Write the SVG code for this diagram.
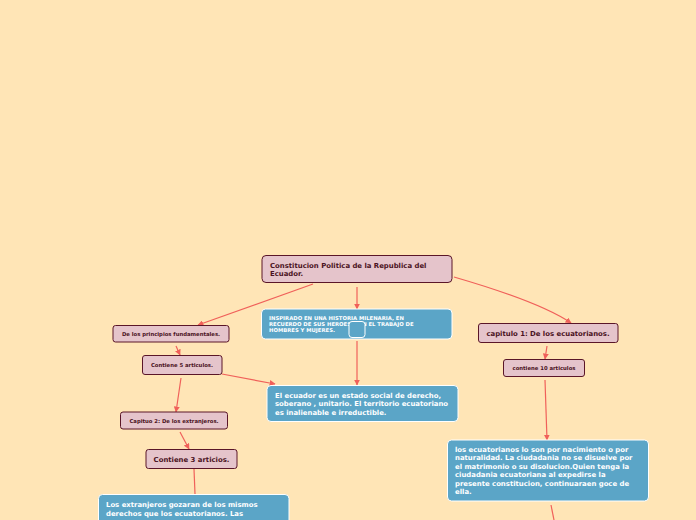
<svg xmlns="http://www.w3.org/2000/svg" width="696" height="520" viewBox="0 0 696 520">
<defs>
<style>
.bg{fill:#FFE5B6}
.pink{fill:#E5C4CB;stroke:#5A1628;stroke-width:1}
.blue{fill:#5BA5C7;stroke:#FFFFFF;stroke-width:1}
.tp{font-family:"DejaVu Sans","Verdana",sans-serif;font-weight:bold;fill:#4A1222}
.tb{font-family:"DejaVu Sans","Verdana",sans-serif;font-weight:bold;fill:#FFFFFF}
.c{fill:none;stroke:#F0605A;stroke-width:1.2}
</style>
<marker id="ah" viewBox="0 0 10 10" refX="9" refY="5" markerWidth="6" markerHeight="6" orient="auto" markerUnits="userSpaceOnUse">
<path d="M0,0 L10,5 L0,10 z" fill="#F0605A"/>
</marker>
</defs>
<rect class="bg" x="0" y="0" width="696" height="520"/>
<g id="connectors">
<path class="c" d="M313,284 L198,325" marker-end="url(#ah)"/>
<path class="c" d="M357,287 L357,309" marker-end="url(#ah)"/>
<path class="c" d="M454,277 Q540,302 571,323" marker-end="url(#ah)"/>
<path class="c" d="M176,346 L180,355" marker-end="url(#ah)"/>
<path class="c" d="M181,378 L176,412" marker-end="url(#ah)"/>
<path class="c" d="M222,374 L275,384" marker-end="url(#ah)"/>
<path class="c" d="M357,341 L357,385" marker-end="url(#ah)"/>
<path class="c" d="M180,432 L189,449" marker-end="url(#ah)"/>
<path class="c" d="M194,469 L195,494"/>
<path class="c" d="M547,346 L545,359" marker-end="url(#ah)"/>
<path class="c" d="M545,380 L547,440" marker-end="url(#ah)"/>
<path class="c" d="M551,505 L554,520"/>
</g>
<g id="root">
<rect class="pink" x="262" y="255.5" width="190" height="27" rx="4"/>
<text class="tp" font-size="6.9"><tspan x="270" y="267.5">Constitucion Politica de la Republica del</tspan><tspan x="270" y="276">Ecuador.</tspan></text>
</g>
<g id="inspirado">
<rect class="blue" x="261.5" y="309" width="190.5" height="30" rx="4"/>
<text class="tb" font-size="5.3"><tspan x="269" y="319.5">INSPIRADO EN UNA HISTORIA MILENARIA, EN</tspan><tspan x="269" y="325.5">RECUERDO DE SUS HEROES Y EN EL TRABAJO DE</tspan><tspan x="269" y="331.5">HOMBRES Y MUJERES.</tspan></text>
<rect x="349" y="321.5" width="16" height="16" rx="3" fill="#5BA5C7" stroke="#FFFFFF" stroke-width="1"/>
</g>
<g id="principios">
<rect class="pink" x="113" y="325.5" width="116" height="16.5" rx="2.5"/>
<text class="tp" font-size="5.3" x="171" y="335.5" text-anchor="middle">De los principios fundamentales.</text>
</g>
<g id="contiene5">
<rect class="pink" x="142.5" y="355.5" width="79.5" height="19" rx="2.5"/>
<text class="tp" font-size="5.3" x="182" y="366.5" text-anchor="middle">Contiene 5 articulos.</text>
</g>
<g id="capitulo2">
<rect class="pink" x="120.5" y="412" width="107" height="17" rx="2.5"/>
<text class="tp" font-size="5.3" x="174" y="422.5" text-anchor="middle">Capituo 2: De los extranjeros.</text>
</g>
<g id="contiene3">
<rect class="pink" x="146" y="449.5" width="91" height="19" rx="2.5"/>
<text class="tp" font-size="6.9" x="191.5" y="461.5" text-anchor="middle">Contiene 3 articios.</text>
</g>
<g id="extranjeros">
<rect class="blue" x="98.5" y="494.5" width="190.5" height="40" rx="4"/>
<text class="tb" font-size="6.9"><tspan x="106" y="507">Los extranjeros gozaran de los mismos</tspan><tspan x="106" y="515.5">derechos que los ecuatorianos. Las</tspan></text>
</g>
<g id="ecuador">
<rect class="blue" x="267" y="385.5" width="191" height="36" rx="4"/>
<text class="tb" font-size="6.9"><tspan x="275" y="397.5">El ecuador es un estado social de derecho,</tspan><tspan x="275" y="406">soberano , unitario. El territorio ecuatoriano</tspan><tspan x="275" y="414.5">es inalienable e irreductible.</tspan></text>
</g>
<g id="capitulo1">
<rect class="pink" x="478.5" y="323.5" width="139.5" height="19" rx="2.5"/>
<text class="tp" font-size="6.9" x="548" y="335.5" text-anchor="middle">capitulo 1: De los ecuatorianos.</text>
</g>
<g id="contiene10">
<rect class="pink" x="503.5" y="359.5" width="81" height="17" rx="2.5"/>
<text class="tp" font-size="5.3" x="544" y="370" text-anchor="middle">contiene 10 articulos</text>
</g>
<g id="ecuatorianos">
<rect class="blue" x="447.5" y="440" width="201" height="61" rx="4"/>
<text class="tb" font-size="6.9"><tspan x="455" y="451.5">los ecuatorianos lo son por nacimiento o por</tspan><tspan x="455" y="460">naturalidad. La ciudadania no se disuelve por</tspan><tspan x="455" y="468.5">el matrimonio o su disolucion.Quien tenga la</tspan><tspan x="455" y="477">ciudadania ecuatoriana al expedirse la</tspan><tspan x="455" y="485.5">presente constitucion, continuaraen goce de</tspan><tspan x="455" y="494">ella.</tspan></text>
</g>
</svg>
